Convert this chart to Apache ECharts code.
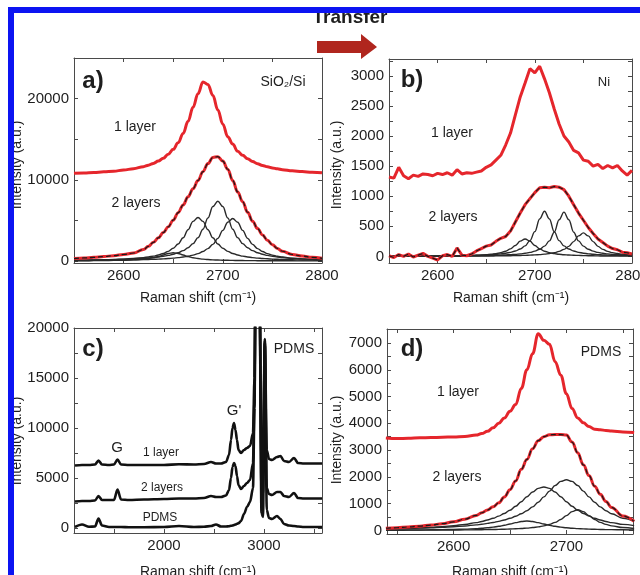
<!DOCTYPE html>
<html lang="en">
<head>
<meta charset="UTF-8">
<title>Raman 2D band of graphene</title>
<style>
  html, body { margin: 0; padding: 0; background: #fff; }
  #chart { width: 640px; height: 575px; }
</style>
</head>
<body>
<div id="chart"></div>
<script src="https://cdn.jsdelivr.net/npm/echarts@6/dist/echarts.min.js"></script>
<script>
// a) SiO2/Si
const xA = [2550,2560,2570,2580,2590,2600,2610,2620,2625,2630,2635,2640,2645,2650,2655,2660,2665,2670,2675,2680,2685,2690,2695,2700,2705,2710,2715,2720,2725,2730,2735,2740,2745,2750,2755,2760,2770,2780,2790,2800]
const a1Layer = [10800,10850,10900,10980,11060,11200,11370,11620,11790,12020,12300,12660,13140,13750,14560,15710,17200,18930,20600,22050,21750,20380,18600,16850,15300,14400,13500,13020,12580,12240,11980,11760,11600,11460,11350,11250,11110,11010,10930,10870]
const a2Layers = [300,370,450,540,650,800,980,1400,1800,2300,2850,3500,4200,5030,5950,6900,7900,8900,9900,11000,12000,12750,12850,12300,11300,9900,8500,7300,6000,4900,4000,3200,2550,2000,1550,1200,800,600,450,330]
const aPeak1 = [26,31,39,51,68,95,141,226,296,398,543,733,929,1020,929,733,543,398,296,226,176,141,114,95,80,68,58,51,44,39,35,31,28,26,23,21,18,15,13,11]
const aPeak2 = [86,102,122,148,183,233,306,418,498,601,739,927,1187,1558,2090,2852,3854,4883,5360,4883,3854,2852,2090,1558,1187,927,739,601,498,418,356,306,266,233,206,183,148,122,102,86]
const aPeak3 = [89,102,118,140,168,203,252,320,366,420,489,574,684,826,1015,1273,1630,2139,2870,3916,5292,6705,7360,6705,5292,3916,2870,2139,1630,1273,1015,826,684,574,489,420,320,252,203,168]
const aPeak4 = [52,59,68,78,92,108,131,161,180,202,228,260,299,348,409,487,588,723,906,1160,1523,2044,2788,3768,4774,5240,4774,3768,2788,2044,1523,1160,906,723,588,487,348,260,202,161]

// b) Ni
const xB = [2550,2555,2560,2565,2570,2575,2580,2585,2590,2595,2600,2605,2610,2615,2620,2625,2630,2635,2640,2645,2650,2655,2660,2665,2670,2675,2680,2685,2690,2695,2700,2705,2710,2715,2720,2725,2730,2735,2740,2745,2750,2755,2760,2765,2770,2775,2780,2785,2790,2795,2800]
const b1Layer = [1320,1300,1480,1340,1290,1350,1330,1370,1360,1340,1380,1360,1390,1350,1440,1370,1390,1380,1400,1420,1480,1520,1600,1680,1850,2050,2350,2650,2880,3120,3050,3160,2950,2720,2450,2200,2000,1900,1760,1720,1600,1580,1500,1530,1460,1510,1470,1510,1420,1350,1430]
const b2Layers = [10,-20,30,0,40,-10,20,50,0,-30,-60,10,30,0,140,20,10,40,90,130,170,190,250,300,330,420,570,720,860,960,1060,1140,1150,1140,1160,1150,1110,1000,860,720,600,480,380,290,230,170,130,110,70,60,40]
const bPeak1 = [2,2,3,3,3,4,4,4,5,5,6,6,7,8,10,11,13,16,18,22,28,35,46,62,86,124,182,253,290,253,182,124,86,62,46,35,28,22,18,16,13,11,10,8,7,6,6,5,5,4,4]
const bPeak2 = [4,4,4,5,5,5,5,6,6,7,8,8,9,10,11,12,14,16,18,21,24,29,35,42,53,67,89,122,174,262,411,622,750,622,411,262,174,122,89,67,53,42,35,29,24,21,18,16,14,12,11]
const bPeak3 = [3,3,3,4,4,4,4,5,5,5,5,6,6,7,7,8,9,10,11,12,14,16,18,20,24,28,34,41,52,66,87,119,171,257,402,609,735,609,402,257,171,119,87,66,52,41,34,28,24,20,18]
const bPeak4 = [2,2,2,2,2,2,3,3,3,3,3,3,3,4,4,4,5,5,5,6,6,7,8,9,10,11,13,15,17,21,25,30,37,47,62,83,116,167,245,340,390,340,245,167,116,83,62,47,37,30,25]

// c) full spectra on PDMS
const xC = [1110,1180,1250,1310,1345,1380,1450,1500,1535,1570,1650,1800,2000,2150,2300,2400,2470,2520,2570,2620,2650,2670,2685,2700,2715,2730,2745,2770,2800,2830,2860,2890,2905,2915,2955,2975,2990,3008,3028,3050,3080,3130,3165,3200,3250,3300,3340,3400,3500,3580]
const c1Layer = [6250,6300,6300,6350,6750,6350,6300,6350,6850,6350,6300,6300,6300,6380,6350,6400,6600,6450,6450,6600,7300,8800,10000,10500,9800,8800,7800,7500,7800,8000,8200,9500,15000,24000,24000,7000,6700,18900,7800,6900,6800,7100,7200,6700,6600,7000,6500,6450,6450,6450]
const c2Layers = [2650,2700,2700,2750,3200,2800,2800,2800,3850,2850,2800,2850,2900,2950,2950,3000,3200,3100,3100,3250,3800,5000,6100,6500,6200,5200,4300,3900,4200,4500,4800,6500,13000,24000,24000,3800,3400,18700,4000,3400,3300,3600,3600,3200,3100,3500,3000,2950,2950,2950]
const cPdms = [100,350,120,150,950,250,100,100,100,100,80,80,100,200,100,120,200,350,150,150,180,220,250,300,350,420,480,700,1400,2100,2600,4000,12000,24000,24000,1500,1100,18500,1800,1000,900,1200,900,400,250,200,150,100,100,100]

// d) transferred to PDMS
const xD = [2540,2550,2560,2570,2580,2590,2600,2610,2620,2625,2630,2635,2640,2645,2650,2655,2660,2665,2670,2675,2680,2685,2690,2695,2700,2705,2710,2715,2720,2725,2730,2735,2740,2750,2760]
const d1Layer = [3450,3430,3440,3460,3470,3480,3490,3510,3560,3620,3700,3830,4000,4200,4450,4700,5300,6000,6600,7350,7100,6950,6300,5800,5100,4550,4200,4020,3880,3780,3760,3730,3710,3680,3660]
const d2Layers = [80,100,130,160,200,250,320,420,560,660,760,880,1030,1250,1520,1850,2280,2650,3050,3350,3500,3570,3580,3580,3560,3300,2900,2450,2050,1650,1350,1080,860,540,340]
const dPeak1 = [11,12,15,18,22,28,36,48,68,81,99,123,153,192,239,290,333,350,333,290,239,192,153,123,99,81,68,57,48,41,36,31,28,22,18]
const dPeak2 = [62,72,84,99,118,143,177,224,290,334,387,452,533,632,755,901,1072,1259,1437,1570,1620,1570,1437,1259,1072,901,755,632,533,452,387,334,290,224,177]
const dPeak3 = [56,64,73,84,98,115,137,167,206,231,261,297,338,389,452,527,622,737,881,1051,1251,1469,1676,1831,1890,1831,1676,1469,1251,1051,881,737,622,452,338]
const dPeak4 = [7,8,9,10,11,13,16,19,24,27,30,33,38,44,51,60,72,86,106,133,170,224,300,410,554,701,770,701,554,410,300,224,170,106,72]

// ticks and tick labels
const aXTicks = [2600, 2650, 2700, 2750]
const aXLabels = [2600, 2700, 2800]
const aYTicks = [0, 5000, 10000, 15000, 20000]
const aYLabels = [0, 10000, 20000]
const bXTicks = [2600, 2650, 2700, 2750]
const bXLabels = [2600, 2700, 2800]
const bYTicks = [0, 250, 500, 750, 1000, 1250, 1500, 1750, 2000, 2250, 2500, 2750, 3000, 3250]
const bYLabels = [0, 500, 1000, 1500, 2000, 2500, 3000]
const cXTicks = [1500, 2000, 2500, 3000, 3500]
const cXLabels = [2000, 3000]
const cYTicks = [0, 2500, 5000, 7500, 10000, 12500, 15000, 17500, 20000]
const cYLabels = [0, 5000, 10000, 15000, 20000]
const dXTicks = [2550, 2600, 2650, 2700, 2750]
const dXLabels = [2600, 2700]
const dYTicks = [0, 500, 1000, 1500, 2000, 2500, 3000, 3500, 4000, 4500, 5000, 5500, 6000, 6500, 7000, 7500]
const dYLabels = [0, 1000, 2000, 3000, 4000, 5000, 6000, 7000]

const FONT = '"Liberation Sans", Arial, Helvetica, sans-serif'
const INK = '#1e1e1e'
const RED = '#e5262c'

const panels = [
  { box: { left: 74, top: 58, width: 248, height: 205 }, x: [2550, 2800, aXTicks, aXLabels], y: [-250, 25000, aYTicks, aYLabels] },
  { box: { left: 389, top: 59, width: 243, height: 204 }, x: [2550, 2800, bXTicks, bXLabels], y: [-110, 3280, bYTicks, bYLabels] },
  { box: { left: 74, top: 328, width: 248, height: 205 }, x: [1100, 3580, cXTicks, cXLabels], y: [-500, 20000, cYTicks, cYLabels] },
  { box: { left: 387, top: 329, width: 246, height: 205 }, x: [2541, 2759, dXTicks, dXLabels], y: [-134, 7523, dYTicks, dYLabels] }
]

const grids = []
const xAxes = []
const yAxes = []

function makeAxis (pos, range, withLabels) {
  const [min, max, ticks, labels] = range
  return {
    type: 'value',
    position: pos,
    min: min,
    max: max,
    axisLine: { show: true, onZero: false, lineStyle: { color: '#4a4a4a', width: 1 } },
    axisTick: { show: true, inside: true, length: 4, customValues: ticks, lineStyle: { color: '#4a4a4a' } },
    axisLabel: {
      show: withLabels,
      customValues: labels,
      formatter: (v) => String(v),
      color: INK,
      fontSize: 15,
      fontFamily: FONT,
      margin: 5,
      hideOverlap: false
    },
    splitLine: { show: false }
  }
}

panels.forEach((p, i) => {
  grids.push(Object.assign({ outerBoundsMode: 'none', containLabel: false }, p.box))
  xAxes.push(Object.assign(makeAxis('bottom', p.x, true), { gridIndex: i }))
  xAxes.push(Object.assign(makeAxis('top', p.x, false), { gridIndex: i }))
  yAxes.push(Object.assign(makeAxis('left', p.y, true), { gridIndex: i }))
  yAxes.push(Object.assign(makeAxis('right', p.y, false), { gridIndex: i }))
})

function pts (xs, ys) {
  return xs.map((x, i) => [x, ys[i]])
}

function curve (panel, xs, ys, lineStyle, smooth) {
  return {
    type: 'line',
    xAxisIndex: panel * 2,
    yAxisIndex: panel * 2,
    data: pts(xs, ys),
    symbol: 'none',
    smooth: smooth,
    smoothMonotone: 'x',
    clip: true,
    silent: true,
    lineStyle: lineStyle
  }
}

const redStyle = { color: RED, width: 3 }
const dashStyle = { color: '#1a1a1a', width: 1.2, type: [5, 3] }
const compStyle = { color: '#2a2a2a', width: 1.4 }
const blackStyle = { color: '#111', width: 2.6 }

const series = [
  curve(0, xA, aPeak1, compStyle, 0.4),
  curve(0, xA, aPeak2, compStyle, 0.4),
  curve(0, xA, aPeak3, compStyle, 0.4),
  curve(0, xA, aPeak4, compStyle, 0.4),
  curve(0, xA, a2Layers, redStyle, 0.4),
  curve(0, xA, a2Layers, dashStyle, 0.4),
  curve(0, xA, a1Layer, redStyle, 0.4),

  curve(1, xB, bPeak1, compStyle, 0.4),
  curve(1, xB, bPeak2, compStyle, 0.4),
  curve(1, xB, bPeak3, compStyle, 0.4),
  curve(1, xB, bPeak4, compStyle, 0.4),
  curve(1, xB, b2Layers, redStyle, false),
  curve(1, xB, b2Layers, dashStyle, false),
  curve(1, xB, b1Layer, redStyle, false),

  curve(2, xC, cPdms, blackStyle, 0.3),
  curve(2, xC, c2Layers, blackStyle, 0.3),
  curve(2, xC, c1Layer, blackStyle, 0.3),

  curve(3, xD, dPeak1, compStyle, 0.4),
  curve(3, xD, dPeak2, compStyle, 0.4),
  curve(3, xD, dPeak3, compStyle, 0.4),
  curve(3, xD, dPeak4, compStyle, 0.4),
  curve(3, xD, d2Layers, redStyle, 0.4),
  curve(3, xD, d2Layers, dashStyle, 0.4),
  curve(3, xD, d1Layer, redStyle, 0.4)
]

function label (text, x, y, size, bold, rotate) {
  return {
    type: 'text',
    x: x,
    y: y,
    rotation: rotate ? Math.PI / 2 : 0,
    silent: true,
    style: {
      text: text,
      font: (bold ? 'bold ' : '') + size + 'px ' + FONT,
      fill: INK,
      align: 'center',
      verticalAlign: 'middle',
      textAlign: 'center',
      textVerticalAlign: 'middle'
    }
  }
}

const xTitle = 'Raman shift (cm\u207B\u00B9)'
const yTitle = 'Intensity (a.u.)'

const graphics = [
  label('Transfer', 350, 18, 19, true),
  {
    type: 'polygon',
    silent: true,
    shape: { points: [[317, 41], [361, 41], [361, 34], [377, 47], [361, 59], [361, 53], [317, 53]] },
    style: { fill: '#b0261e' }
  },
  label('a)', 93, 81, 24, true),
  label('b)', 412, 80, 24, true),
  label('c)', 93, 349, 24, true),
  label('d)', 412, 349, 24, true),
  label('SiO\u2082/Si', 283, 82, 14),
  label('Ni', 604, 82, 13),
  label('PDMS', 294, 349, 14),
  label('PDMS', 601, 352, 14),
  label('1 layer', 135, 127, 14),
  label('2 layers', 136, 203, 14),
  label('1 layer', 452, 133, 14),
  label('2 layers', 453, 217, 14),
  label('1 layer', 458, 392, 14),
  label('2 layers', 457, 477, 14),
  label('G', 117, 448, 15),
  label("G'", 234, 411, 15),
  label('1 layer', 161, 453, 12),
  label('2 layers', 162, 488, 12),
  label('PDMS', 160, 518, 12),
  label(xTitle, 198, 298, 14),
  label(xTitle, 511, 298, 14),
  label(xTitle, 198, 572, 14),
  label(xTitle, 510, 572, 14),
  label(yTitle, 17, 165, 14, false, true),
  label(yTitle, 337, 165, 14, false, true),
  label(yTitle, 17, 441, 14, false, true),
  label(yTitle, 337, 440, 14, false, true),
  {
    type: 'rect',
    silent: true,
    shape: { x: 11, y: 10, width: 900, height: 900 },
    style: { fill: 'none', stroke: '#0c14f2', lineWidth: 6 }
  }
]

const chart = echarts.init(document.getElementById('chart'), null, { renderer: 'canvas' })
chart.setOption({
  backgroundColor: '#fff',
  animation: false,
  grid: grids,
  xAxis: xAxes,
  yAxis: yAxes,
  series: series,
  graphic: graphics
})
</script>
</body>
</html>
